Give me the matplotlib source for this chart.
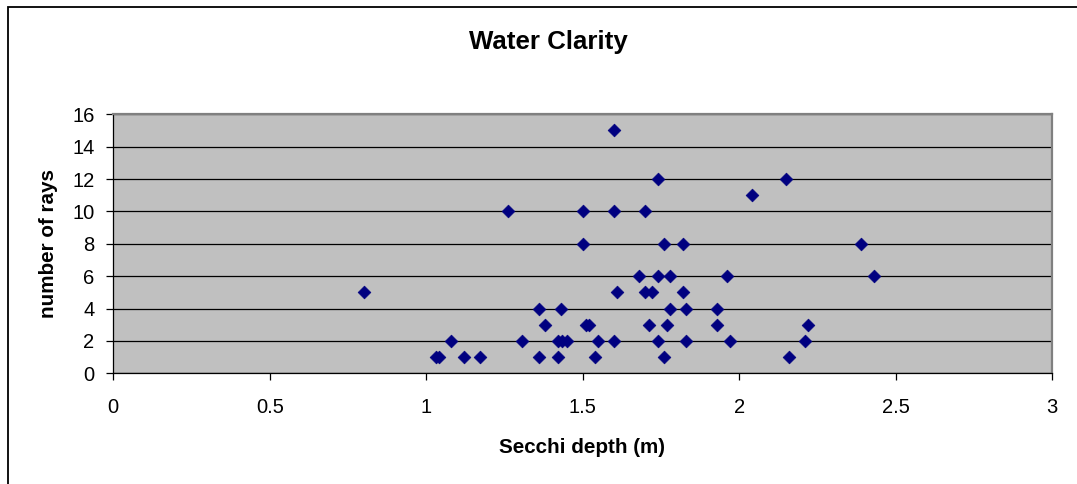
import matplotlib.pyplot as plt
from matplotlib.patches import Rectangle

plt.rcParams['font.family'] = ['Liberation Sans', 'DejaVu Sans']

# Secchi depth (m) and number of rays observed at each site
secchi_depth = [0.80, 1.03, 1.04, 1.08, 1.12, 1.17, 1.26, 1.305, 1.36, 1.36,
                1.38, 1.42, 1.435, 1.45, 1.42, 1.43, 1.50, 1.50, 1.51, 1.52,
                1.54, 1.55, 1.60, 1.60, 1.60, 1.61, 1.68, 1.70, 1.70, 1.71,
                1.72, 1.74, 1.74, 1.74, 1.76, 1.76, 1.77, 1.78, 1.78, 1.82,
                1.82, 1.83, 1.83, 1.93, 1.93, 1.96, 1.97, 2.04, 2.15, 2.16,
                2.21, 2.22, 2.39, 2.43]
num_rays = [5, 1, 1, 2, 1, 1, 10, 2, 4, 1,
            3, 2, 2, 2, 1, 4, 10, 8, 3, 3,
            1, 2, 15, 10, 2, 5, 6, 10, 5, 3,
            5, 2, 6, 12, 1, 8, 3, 6, 4, 8,
            5, 4, 2, 4, 3, 6, 2, 11, 12, 1,
            2, 3, 8, 6]

x_ticks = [0, 0.5, 1, 1.5, 2, 2.5, 3]
x_tick_labels = ['0', '0.5', '1', '1.5', '2', '2.5', '3']
y_ticks = [0, 2, 4, 6, 8, 10, 12, 14, 16]

W, H = 1077, 484
fig = plt.figure(figsize=(W / 100, H / 100), dpi=100)
ax = fig.add_axes([113.3 / W, 1 - 373.3 / H, 939 / W, 259 / H])
ax.set_facecolor('#C0C0C0')

ax.scatter(secchi_depth, num_rays, marker='D', s=42, color='#000080',
           edgecolors='#000080', linewidths=0.5, zorder=3)

ax.set_xlim(0, 3)
ax.set_ylim(0, 16)
ax.set_xticks(x_ticks)
ax.set_xticklabels(x_tick_labels)
ax.set_yticks(y_ticks)
ax.grid(axis='y', color='black', linewidth=0.9, zorder=1)
ax.set_axisbelow(True)

ax.tick_params(axis='both', labelsize=14.5, length=5, width=0.9, color='black')
ax.tick_params(axis='x', pad=13)
ax.tick_params(axis='y', pad=8.5)

for side in ['left', 'bottom']:
    ax.spines[side].set_color('black')
    ax.spines[side].set_linewidth(0.9)
for side in ['top', 'right']:
    ax.spines[side].set_color('#808080')
    ax.spines[side].set_linewidth(1.6)

fig.text(548 / W, 1 - 49 / H, 'Water Clarity', ha='center', va='baseline',
         fontsize=18.6, fontweight='bold')
fig.text(582 / W, 1 - 453 / H, 'Secchi depth (m)', ha='center', va='baseline',
         fontsize=14.9, fontweight='bold')
fig.text(49 / W, 1 - 243 / H, 'number of rays', ha='center', va='center',
         rotation=90, fontsize=14.9, fontweight='bold')

# chart frame (top and left edges fall inside the image)
fig.patches.append(Rectangle((8 / W, -0.1), 1.2, 1.1 - 6.5 / H, fill=False,
                             edgecolor='black', linewidth=1.3,
                             transform=fig.transFigure, figure=fig))

fig.savefig('out.png', dpi=100)
